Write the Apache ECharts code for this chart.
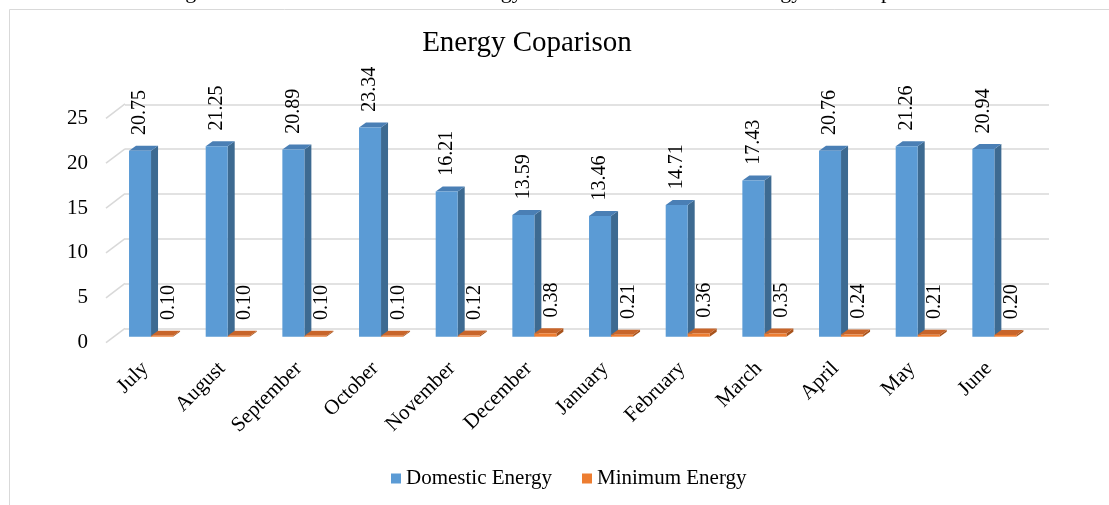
<!DOCTYPE html>
<html>
<head>
<meta charset="utf-8">
<script src="https://cdn.jsdelivr.net/npm/echarts@6/dist/echarts.min.js"></script>
<style>
  html, body { margin: 0; padding: 0; background: #fff; }
  #chart { width: 1109px; height: 505px; }
</style>
</head>
<body>
<div id="chart"></div>
<script>
// Monthly energy values shown as 3D-style columns
const months = ['July', 'August', 'September', 'October', 'November', 'December',
                'January', 'February', 'March', 'April', 'May', 'June'];
const domesticEnergy = [20.75, 21.25, 20.89, 23.34, 16.21, 13.59, 13.46, 14.71, 17.43, 20.76, 21.26, 20.94];
const minimumEnergy = [0.10, 0.10, 0.10, 0.10, 0.12, 0.38, 0.21, 0.36, 0.35, 0.24, 0.21, 0.20];
const yTicks = [0, 5, 10, 15, 20, 25];
const seriesNames = ['Domestic Energy', 'Minimum Energy'];
const chartTitle = 'Energy Coparison';
const captionText = 'Figure 4.10: Domestic Electrical Energy Demand and Minimum Energy Consumption';

const FONT = "'Liberation Serif', 'Times New Roman', serif";

// depth of the floor (front edge -> back wall) and of each column
const FLOOR_DX = 19, FLOOR_DY = -14.4;
const BAR_DX = 7, BAR_DY = -5;
const BAR_FRACTION = 0.287;

const palette = {
  domestic: { front: '#5b9bd5', side: '#3d6a91', top: '#4a7fb5' },
  minimum:  { front: '#ed7d31', side: '#a8531c', top: '#c8652a' }
};

const chart = echarts.init(document.getElementById('chart'), null, { renderer: 'canvas' });

function columnRenderer(colors, placeRight, labelShift) {
  return function (params, api) {
    const idx = api.value(0);
    const val = api.value(1);
    const topPt = api.coord([idx, val]);
    const basePt = api.coord([idx, 0]);
    const band = api.size([1, 0])[0];
    const w = band * BAR_FRACTION;
    const x0 = placeRight ? topPt[0] : topPt[0] - w;
    const x1 = x0 + w;
    const yT = topPt[1];
    const yB = basePt[1];
    return {
      type: 'group',
      children: [
        {
          type: 'polygon',
          shape: { points: [[x1, yB], [x1 + BAR_DX, yB + BAR_DY], [x1 + BAR_DX, yT + BAR_DY], [x1, yT]] },
          style: { fill: colors.side }
        },
        {
          type: 'polygon',
          shape: { points: [[x0, yT], [x1, yT], [x1 + BAR_DX, yT + BAR_DY], [x0 + BAR_DX, yT + BAR_DY]] },
          style: { fill: colors.top }
        },
        {
          type: 'rect',
          shape: { x: x0, y: yT, width: w, height: Math.max(yB - yT, 0.8) },
          style: { fill: colors.front }
        },
        {
          type: 'text',
          x: x0 + w / 2 + labelShift,
          y: yT - 15.7,
          rotation: Math.PI / 2,
          style: {
            text: val.toFixed(2),
            font: '20px ' + FONT,
            fill: '#000',
            align: 'left',
            verticalAlign: 'middle'
          }
        }
      ]
    };
  };
}

const option = {
  backgroundColor: '#fff',
  animation: false,
  textStyle: { fontFamily: FONT },
  grid: [
    // back wall (gridlines)
    { left: 125, top: 104.3, width: 924, height: 224, outerBoundsMode: 'none' },
    // front edge (value labels)
    { left: 106, top: 118.3, width: 924, height: 224.4, outerBoundsMode: 'none' },
    // column plane
    { left: 112.7, top: 112.7, width: 920, height: 224, outerBoundsMode: 'none' }
  ],
  xAxis: [
    { type: 'category', gridIndex: 0, data: months, show: false },
    { type: 'category', gridIndex: 1, data: months, show: false },
    {
      type: 'category', gridIndex: 2, data: months,
      axisLine: { show: false }, axisTick: { show: false },
      axisLabel: {
        interval: 0, rotate: 45, margin: 23, padding: [0, 8, 0, 0],
        fontSize: 21, fontFamily: FONT, color: '#000'
      }
    }
  ],
  yAxis: [
    {
      type: 'value', gridIndex: 0, min: 0, max: 25, interval: 5,
      axisLine: { show: false }, axisTick: { show: false }, axisLabel: { show: false },
      splitLine: { show: true, lineStyle: { color: '#d9d9d9', width: 1.6 } }
    },
    {
      type: 'value', gridIndex: 1, min: 0, max: 25, interval: 5,
      axisLine: { show: false }, axisTick: { show: false }, splitLine: { show: false },
      axisLabel: { margin: 18, fontSize: 21, fontFamily: FONT, color: '#000' }
    },
    {
      type: 'value', gridIndex: 2, min: 0, max: 25, interval: 5, show: false
    }
  ],
  legend: {
    left: 386, top: 463,
    itemWidth: 10, itemHeight: 10, itemGap: 30,
    icon: 'rect',
    textStyle: { fontSize: 21, fontFamily: FONT, color: '#000' },
    data: [
      { name: seriesNames[0], itemStyle: { color: palette.domestic.front } },
      { name: seriesNames[1], itemStyle: { color: palette.minimum.front } }
    ]
  },
  graphic: [
    {
      type: 'rect', silent: true, z: -1,
      shape: { x: 9.5, y: 9.5, width: 1300, height: 700 },
      style: { fill: 'none', stroke: '#d9d9d9', lineWidth: 1 }
    },
    {
      type: 'text', x: 167, y: 3,
      style: { text: captionText, font: '22px ' + FONT, fill: '#000', align: 'left', verticalAlign: 'bottom' }
    },
    {
      type: 'text', x: 527, y: 43,
      style: { text: chartTitle, font: '29px ' + FONT, fill: '#000', align: 'center', verticalAlign: 'middle' }
    }
  ],
  series: [
    {
      // floor-to-wall connectors at each value tick
      type: 'custom', name: 'depth', xAxisIndex: 1, yAxisIndex: 1,
      silent: true, clip: false, z: 1,
      data: yTicks.map(v => [0, v]),
      renderItem: function (params, api) {
        const cs = params.coordSys;
        const p = api.coord([0, api.value(1)]);
        return {
          type: 'line',
          shape: { x1: cs.x, y1: p[1], x2: cs.x + FLOOR_DX, y2: p[1] + FLOOR_DY },
          style: { stroke: '#d9d9d9', lineWidth: 1.6 }
        };
      }
    },
    {
      type: 'custom', name: seriesNames[0], xAxisIndex: 2, yAxisIndex: 2,
      clip: false, z: 3,
      itemStyle: { color: palette.domestic.front },
      encode: { x: 0, y: 1 },
      data: domesticEnergy.map((v, i) => [i, v]),
      renderItem: columnRenderer(palette.domestic, false, 0)
    },
    {
      type: 'custom', name: seriesNames[1], xAxisIndex: 2, yAxisIndex: 2,
      clip: false, z: 3,
      itemStyle: { color: palette.minimum.front },
      encode: { x: 0, y: 1 },
      data: minimumEnergy.map((v, i) => [i, v]),
      renderItem: columnRenderer(palette.minimum, true, 6.5)
    }
  ]
};

chart.setOption(option);
</script>
</body>
</html>
